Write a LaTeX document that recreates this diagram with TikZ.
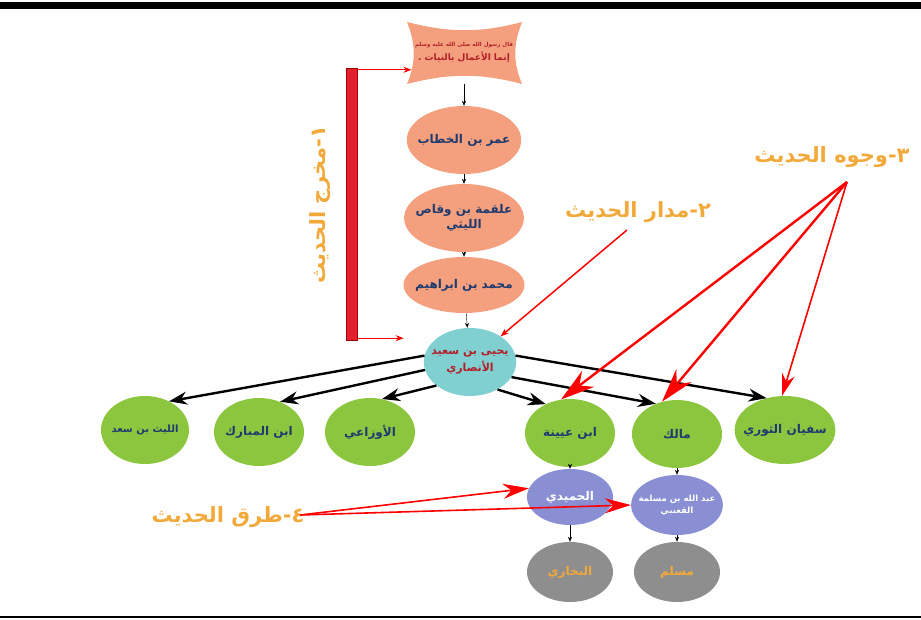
\documentclass[tikz,border=0pt]{standalone}
\usepackage{fontspec}
\usetikzlibrary{shapes.geometric,arrows.meta}
\TeXXeTstate=1
\newfontfamily\arabicfont[Script=Arabic]{DejaVu Sans}
\definecolor{salmon}{HTML}{F4A07E}
\definecolor{leaf}{HTML}{8CC63F}
\definecolor{sky}{HTML}{80CFD1}
\definecolor{lilac}{HTML}{8A8FD4}
\definecolor{ash}{HTML}{8E8E8E}
\definecolor{gold}{HTML}{F2A93B}
\definecolor{ink}{HTML}{1F3A6E}
\definecolor{wine}{HTML}{B2202A}
\definecolor{barred}{HTML}{E3202B}
\newcommand{\rtl}[1]{{\arabicfont\beginR #1\endR}}
\newcommand{\rawinode}[4]{\node[rawi,fill=#1] (#2) at #3 {#4};}

\begin{document}
\begin{tikzpicture}[x=1pt,y=-1pt,
    rawi/.style={ellipse,inner xsep=-6pt,inner ysep=0pt,minimum width=90,minimum height=68,align=center,
      text=ink,font=\bfseries\fontsize{12}{15}\selectfont},
    chain/.style={-{Stealth[length=5pt,width=4pt]},black,thin},
    fan/.style={-{Stealth[length=18pt,width=13pt]},black,line width=2.4pt},
    pointer/.style={-{Stealth[length=34pt,width=20pt]},red,line width=2.4pt},
    label/.style={text=gold,font=\bfseries\fontsize{21}{24}\selectfont}]

  \useasboundingbox (0,0) rectangle (921,620);
  \fill (0,2) rectangle (921,9);
  \draw[line width=1.2pt] (0,617) -- (921,617);

  \fill[salmon] (407,22) .. controls (450,33) and (480,33) .. (522,22)
    .. controls (513,45) and (513,62) .. (522,84)
    .. controls (480,73) and (450,73) .. (407,84)
    .. controls (416,62) and (416,45) .. (407,22);
  \node[align=center,text=wine,font=\bfseries] (matn) at (464,53)
    {{\fontsize{5.5}{8}\selectfont\rtl{قال رسول الله صلى الله عليه وسلم}}\\[2pt]
     {\fontsize{9}{11}\selectfont\rtl{إنما الأعمال بالنيات .}}};

  \rawinode{salmon}{umar}{(464,140)}{\rtl{عمر بن الخطاب}}
  \rawinode{salmon}{alqama}{(464,218)}{\rtl{علقمة بن وقاص}\\\rtl{الليثي}}
  \node[rawi,fill=salmon,minimum height=56] (muhammad) at (464,285) {\rtl{محمد بن ابراهيم}};
  \node[rawi,fill=sky,text=wine,font=\bfseries\fontsize{11}{13}\selectfont] (yahya) at (470,362) {\rtl{يحيى بن سعيد}\\[3pt]\rtl{الأنصاري}};

  \node[rawi,fill=leaf,font=\bfseries\fontsize{10}{13}\selectfont,minimum width=88] (layth) at (145,430) {\rtl{الليث بن سعد}};
  \rawinode{leaf}{mubarak}{(259,432)}{\rtl{ابن المبارك}}
  \rawinode{leaf}{awzai}{(370,432)}{\rtl{الأوزاعي}}
  \rawinode{leaf}{uyayna}{(570,433)}{\rtl{ابن عيينة}}
  \rawinode{leaf}{malik}{(677,434)}{\rtl{مالك}}
  \rawinode{leaf}{sufyan}{(785,430)}{\rtl{سفيان الثوري}}

  \node[rawi,fill=lilac,text=white,minimum width=86,minimum height=56] (humaydi) at (570,497) {\rtl{الحميدي}};
  \node[rawi,fill=lilac,text=white,minimum width=86,minimum height=60,font=\bfseries\fontsize{8.5}{12}\selectfont]
    (qanabi) at (677,505) {\rtl{عبد الله بن مسلمة}\\\rtl{القعنبي}};
  \node[rawi,fill=ash,text=gold,minimum width=86,minimum height=60] (bukhari) at (570,572) {\rtl{البخاري}};
  \node[rawi,fill=ash,text=gold,minimum width=86,minimum height=60] (muslim) at (677,572) {\rtl{مسلم}};

  \draw[chain] (matn.south |- 464,84) -- (umar);
  \draw[chain] (umar) -- (alqama);
  \draw[chain] (alqama) -- (muhammad);
  \draw[chain] (muhammad) -- (yahya);
  \draw[chain] (uyayna) -- (humaydi);
  \draw[chain] (humaydi) -- (bukhari);
  \draw[chain] (malik) -- (qanabi);
  \draw[chain] (qanabi) -- (muslim);

  \draw[fan] (yahya.172) -- (layth.50);
  \draw[fan] (yahya.190) -- (mubarak.55);
  \draw[fan] (yahya.215) -- (awzai.70);
  \draw[fan] (yahya.315) -- (uyayna.130);
  \draw[fan] (yahya.340) -- (malik.125);
  \draw[fan] (yahya.8) -- (sufyan.120);

  \node[fill=barred,draw=red!60!black,minimum width=11,minimum height=272,inner sep=0pt] (bar) at (352,204) {};
  \draw[red,thick,-{Stealth[length=8pt,width=6pt]}] (bar.north east) ++(0,2) coordinate (bartop) -- (bartop -| matn.west);
  \draw[red,thick,-{Stealth[length=8pt,width=6pt]}] (bar.south east) ++(0,-2) coordinate (barbot) -- ([xshift=-20pt]yahya.west |- barbot);
  \node[label,rotate=90] (makhraj) at (320,205) {\rtl{١-مخرج الحديث}};

  \node[label] (madar) at (638,212) {\rtl{٢-مدار الحديث}};
  \coordinate (madarfoot) at (627,230);
  \draw[red,line width=1.5pt,-{Stealth[length=8pt,width=6pt]}] (madarfoot) -- (yahya.40);

  \node[label] (wujuh) at (832,157) {\rtl{٣-وجوه الحديث}};
  \coordinate (wujuhfoot) at (847,182);
  \draw[pointer] (wujuhfoot) -- (uyayna.105);
  \draw[pointer] (wujuhfoot) -- (malik.115);
  \draw[pointer,line width=1.6pt,-{Stealth[length=22pt,width=13pt]}] (wujuhfoot) -- (sufyan.95);

  \node[label] (turuq) at (228,517) {\rtl{٤-طرق الحديث}};
  \coordinate (turuqfoot) at (300,515);
  \draw[pointer,line width=1.6pt,-{Stealth[length=26pt,width=15pt]}] (turuqfoot) -- (humaydi.168);
  \draw[pointer,line width=1.6pt,-{Stealth[length=26pt,width=15pt]}] (turuqfoot) -- (qanabi.west);
\end{tikzpicture}
\end{document}
